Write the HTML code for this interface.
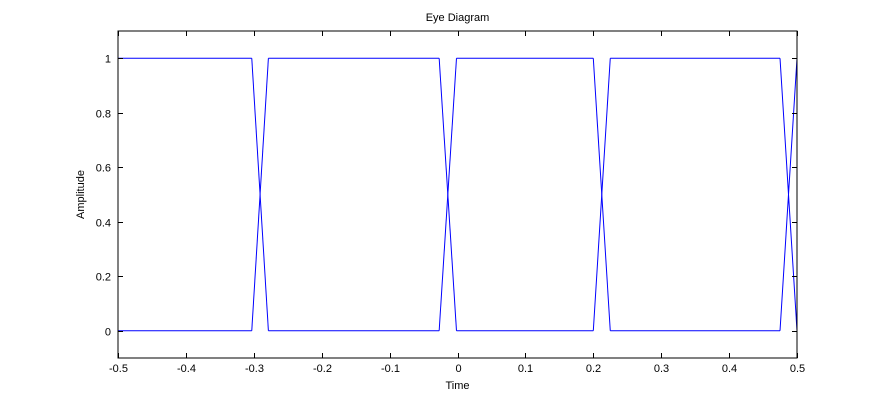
<!DOCTYPE html>
<html><head><meta charset="utf-8"><style>
body{margin:0;background:#fff;width:882px;height:403px;overflow:hidden}
text{font-family:"Liberation Sans",sans-serif;font-size:11px;fill:#000}
</style></head><body>
<svg id="chart" width="882" height="403" xmlns="http://www.w3.org/2000/svg"></svg>
<script>
const xTicks=[-0.5,-0.4,-0.3,-0.2,-0.1,0,0.1,0.2,0.3,0.4,0.5];
const xTickLabels=["-0.5","-0.4","-0.3","-0.2","-0.1","0","0.1","0.2","0.3","0.4","0.5"];
const yTicks=[0,0.2,0.4,0.6,0.8,1];
const yTickLabels=["0","0.2","0.4","0.6","0.8","1"];
const transitionStarts=[-0.303,-0.027,0.2,0.475];
const transitionWidths=[0.0245,0.0255,0.025,0.025];
const levelLow=[0];
const levelHigh=[1];

const L=118,R=797,T=31,B=358;
const sx=v=>L+(v+0.5)/1*(R-L);
const sy=v=>B-(v+0.1)/1.2*(B-T);
const svg=document.getElementById('chart');
const NS='http://www.w3.org/2000/svg';
function mk(tag,attrs,parent){const e=document.createElementNS(NS,tag);for(const k in attrs)e.setAttribute(k,attrs[k]);(parent||svg).appendChild(e);return e;}

const plot=mk('g',{});


const clip=mk('clipPath',{id:'c'});mk('rect',{x:L,y:T,width:R-L,height:B-T},clip);

const lines=mk('g',{'clip-path':'url(#c)',stroke:'#0000ff','stroke-width':1,fill:'none'},plot);


[levelLow[0],levelHigh[0]].forEach(lv=>{
  let cur=-0.5;
  transitionStarts.forEach((s,i)=>{
    const seg=mk('line',{x1:sx(cur),y1:sy(lv),x2:sx(s),y2:sy(lv)},lines);
    
    
    cur=s+transitionWidths[i];
  });
  if(cur<0.5){const seg=mk('line',{x1:sx(cur),y1:sy(lv),x2:sx(0.5),y2:sy(lv)},lines);
    
    }
});
transitionStarts.forEach((s,i)=>{
  const e=s+transitionWidths[i];
  const a=mk('line',{x1:sx(s),y1:sy(levelLow[0]),x2:sx(e),y2:sy(levelHigh[0])},lines);
  
  
  const b=mk('line',{x1:sx(s),y1:sy(levelHigh[0]),x2:sx(e),y2:sy(levelLow[0])},lines);
  
  
});

const box=mk('rect',{x:L,y:T,width:R-L,height:B-T,fill:'none',stroke:'#000','stroke-width':1});


xTicks.forEach((v,i)=>{
  const x=Math.round(sx(v))+0.5;
  mk('line',{x1:x,y1:B,x2:x,y2:B-5,stroke:'#000'});
  mk('line',{x1:x,y1:T,x2:x,y2:T+5,stroke:'#000'});
  const t=mk('text',{x:x,y:B+14,'text-anchor':'middle'});t.textContent=xTickLabels[i];
  
  
});
yTicks.forEach((v,i)=>{
  const y=Math.round(sy(v))+0.5;
  mk('line',{x1:L,y1:y,x2:L+5,y2:y,stroke:'#000'});
  mk('line',{x1:R,y1:y,x2:R-5,y2:y,stroke:'#000'});
  const t=mk('text',{x:L-7,y:y+4,'text-anchor':'end'});t.textContent=yTickLabels[i];
  
  
});
const title=mk('text',{x:(L+R)/2,y:21,'text-anchor':'middle'});title.textContent='Eye Diagram';


const xl=mk('text',{x:(L+R)/2,y:389,'text-anchor':'middle'});xl.textContent='Time';


const yl=mk('text',{x:0,y:0,'text-anchor':'middle',transform:'translate(84,'+((T+B)/2)+') rotate(-90)'});yl.textContent='Amplitude';


</script>
</body></html>
